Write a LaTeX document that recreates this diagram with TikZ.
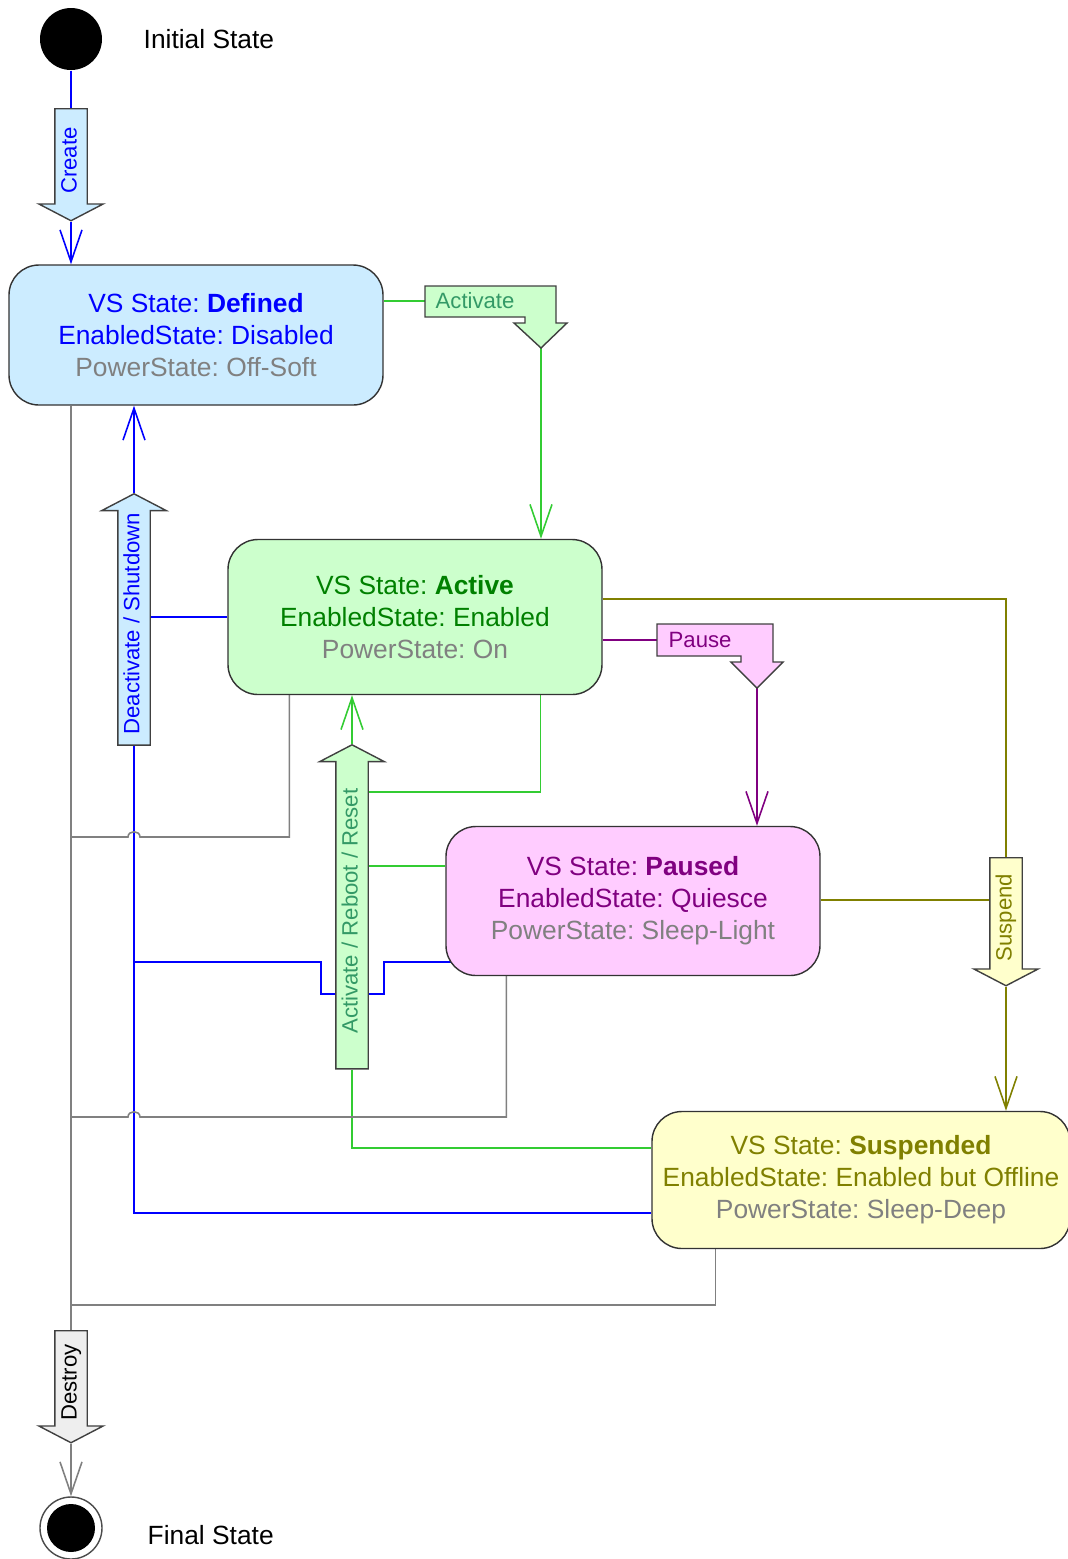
\documentclass[tikz,border=0pt]{standalone}
\usepackage{fontspec}
\setmainfont{Liberation Sans}
\frenchspacing
\usetikzlibrary{arrows.meta, shapes.arrows, backgrounds}

\definecolor{vsblue}{HTML}{0000FF}
\definecolor{vsbluefill}{HTML}{CCECFF}
\definecolor{vsgreen}{HTML}{33CC33}
\definecolor{vsgreentext}{HTML}{008000}
\definecolor{vsgreenlabel}{HTML}{339966}
\definecolor{vsgreenfill}{HTML}{CCFFCC}
\definecolor{vspurple}{HTML}{800080}
\definecolor{vspurplefill}{HTML}{FFCCFF}
\definecolor{vsolive}{HTML}{808000}
\definecolor{vsolivefill}{HTML}{FFFFCC}
\definecolor{vsgray}{HTML}{808080}
\definecolor{vsgrayfill}{HTML}{EEEEEE}

\begin{document}
\begin{tikzpicture}[x=0.1mm, y=-0.1mm,
    every node/.style={font=\fontsize{7.5}{9.1}\selectfont},
    statebox/.style={rectangle, rounded corners=3mm, draw=black!80, line width=0.4pt, minimum width=37.4mm, align=center, inner sep=0pt},
    flowarrow/.style={single arrow, draw=black!75, line width=0.4pt, rotate=90, single arrow head extend=1.6mm, single arrow tip angle=125, inner xsep=1mm, inner ysep=0.5mm, text height=1.6mm, text depth=0.5mm, font=\fontsize{6.3}{7.5}\selectfont},
    downward/.style={shape border rotate=180},
    flagbox/.style={draw=black!75, line width=0.4pt},
    flaglabel/.style={anchor=west, inner sep=0pt, font=\fontsize{6.3}{7.5}\selectfont},
    link/.style={line width=0.45pt},
    opentip/.style={-{Straight Barb[length=3.2mm, width=2.2mm]}}]

    \useasboundingbox (0,0) rectangle (1068,1559);

    % Initial and final state.
    \node[circle, fill=black, minimum size=6.2mm, inner sep=0pt] (initial) at (71,39) {};
    \node[anchor=west, inner sep=0pt] (initial-label) at (143,39) {Initial State};
    \node[circle, draw=black!70, fill=white, minimum size=6.2mm, inner sep=0pt] (final) at (71,1528) {};
    \node[circle, fill=black, minimum size=4.8mm, inner sep=0pt] (final-dot) at (71,1528) {};
    \node[anchor=west, inner sep=0pt] (final-label) at (147,1535) {Final State};

    % States.
    \node[statebox, fill=vsbluefill, minimum height=14mm] (defined) at (196,335)
        {\textcolor{vsblue}{VS State: \textbf{Defined}}\\
         \textcolor{vsblue}{EnabledState: Disabled}\\
         \textcolor{vsgray}{PowerState: Off-Soft}};
    \node[statebox, fill=vsgreenfill, minimum height=15.5mm] (active) at (415,617)
        {\textcolor{vsgreentext}{VS State: \textbf{Active}}\\
         \textcolor{vsgreentext}{EnabledState: Enabled}\\
         \textcolor{vsgray}{PowerState: On}};
    \node[statebox, fill=vspurplefill, minimum height=14.9mm] (paused) at (633,901)
        {\textcolor{vspurple}{VS State: \textbf{Paused}}\\
         \textcolor{vspurple}{EnabledState: Quiesce}\\
         \textcolor{vsgray}{PowerState: Sleep-Light}};
    \node[statebox, fill=vsolivefill, minimum height=13.7mm, minimum width=41.8mm] (suspended) at (861,1180)
        {\textcolor{vsolive}{VS State: \textbf{Suspended}}\\
         \textcolor{vsolive}{EnabledState: Enabled but Offline}\\
         \textcolor{vsgray}{PowerState: Sleep-Deep}};

    % Transitions.
    \node[flowarrow, downward, fill=vsbluefill, text=vsblue, minimum height=11.2mm, anchor=tail] (create) at (71,108) {Create};
    \node[flowarrow, fill=vsbluefill, text=vsblue, minimum height=24.9mm, anchor=tip] (deactivate) at (134,493) {Deactivate / Shutdown};
    \node[flowarrow, fill=vsgreenfill, text=vsgreenlabel, minimum height=32.4mm, anchor=tip] (reboot) at (352,744) {Activate / Reboot / Reset};
    \node[flowarrow, downward, fill=vsolivefill, text=vsolive, minimum height=12.8mm, anchor=tail] (suspend) at (1006,857) {Suspend};
    \node[flowarrow, downward, fill=vsgrayfill, text=black, minimum height=11.2mm, anchor=tail] (destroy) at (71,1330) {Destroy};

    % Activate flag.
    \draw[flagbox, fill=vsgreenfill] (425,286) -- (556,286) -- (556,323) -- (567,323) -- (541,348)
        -- (514,323) -- (525,323) -- (525,317) -- (425,317) -- cycle;
    \node[flaglabel, text=vsgreenlabel] (activate) at (435,301) {Activate};
    \coordinate (activate-in) at (425,301);
    \coordinate (activate-tip) at (541,348);

    % Pause flag.
    \draw[flagbox, fill=vspurplefill] (657,624) -- (773,624) -- (773,662) -- (783,662) -- (757,688)
        -- (731,662) -- (741,662) -- (741,656) -- (657,656) -- cycle;
    \node[flaglabel, text=vspurple] (pause) at (668,640) {Pause};
    \coordinate (pause-in) at (657,640);
    \coordinate (pause-tip) at (757,688);

    \begin{scope}[on background layer]
        % Blue connectors.
        \draw[link, vsblue] (initial) -- (create.tail);
        \draw[link, vsblue, opentip] (create.tip) -- (create.tip |- defined.north);
        \draw[link, vsblue, opentip] (deactivate.tip) -- (deactivate.tip |- defined.south);
        \draw[link, vsblue] (active.west) -- (active.west -| deactivate.tail);
        \draw[link, vsblue] (deactivate.tail) |- (suspended.west |- 0,1213);
        \draw[link, vsblue] (paused.center |- 0,962) -- (384,962) -- (384,994)
            -- (321,994) -- (321,962) -- (deactivate.tail |- 0,962);

        % Green connectors.
        \draw[link, vsgreen] (defined.east |- activate-in) -- (activate-in);
        \draw[link, vsgreen, opentip] (activate-tip) -- (activate-tip |- active.north);
        \draw[link, vsgreen] ([xshift=-6.2mm]active.south east) |- (reboot.tail |- 0,792);
        \draw[link, vsgreen] (paused.west |- 0,866) -- (reboot.tail |- 0,866);
        \draw[link, vsgreen] (reboot.tail) |- (suspended.west |- 0,1148);
        \draw[link, vsgreen, opentip] (reboot.tip) -- (reboot.tip |- active.south);

        % Purple connectors.
        \draw[link, vspurple] (active.east |- pause-in) -- (pause-in);
        \draw[link, vspurple, opentip] (pause-tip) -- (pause-tip |- paused.north);

        % Olive connectors.
        \draw[link, vsolive] (active.east |- 0,599) -| (suspend.tail);
        \draw[link, vsolive] (paused.east |- 0,900) -- (suspend.tail |- 0,900);
        \draw[link, vsolive, opentip] (suspend.tip) -- (suspend.tip |- suspended.north);

        % Gray connectors.
        \draw[link, vsgray, line width=0.55pt] (destroy.tail |- defined.south) -- (destroy.tail);
        \draw[link, vsgray] ([xshift=6.2mm]active.south west) |- (140,837)
            .. controls (140,830) and (128,830) .. (128,837) -- (destroy.tail |- 0,837);
        \draw[link, vsgray] ([xshift=6.1mm]paused.south west) |- (140,1117)
            .. controls (140,1110) and (128,1110) .. (128,1117) -- (destroy.tail |- 0,1117);
        \draw[link, vsgray] ([xshift=6.4mm]suspended.south west) |- (destroy.tail |- 0,1305);
        \draw[link, vsgray, opentip] (destroy.tip) -- (final);
    \end{scope}

\end{tikzpicture}
\end{document}
